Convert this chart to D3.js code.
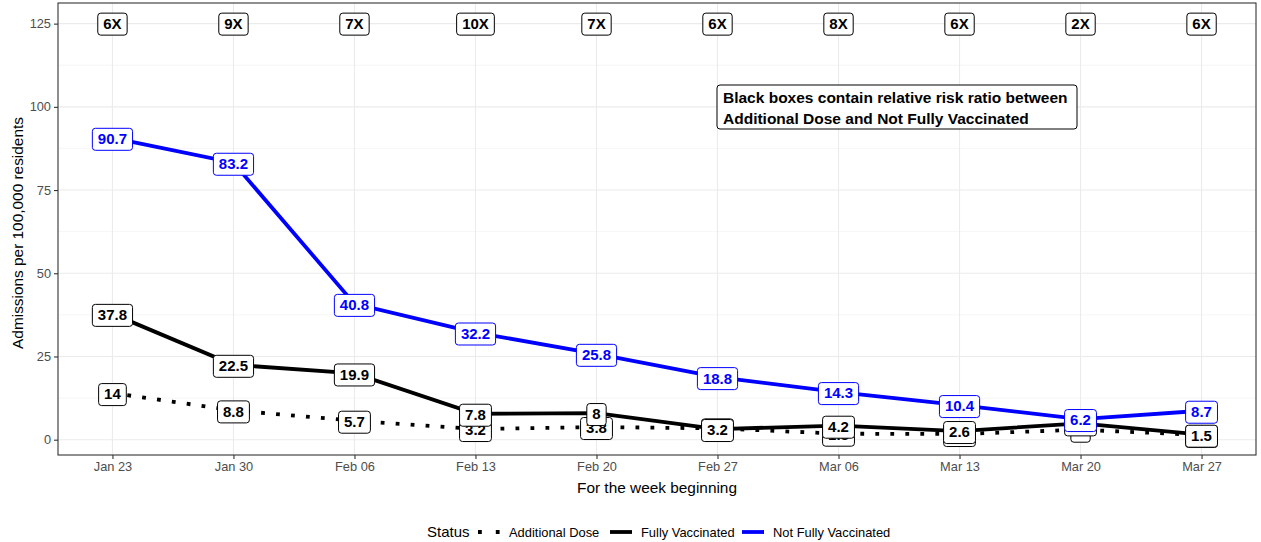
<!DOCTYPE html>
<html>
<head>
<meta charset="utf-8">
<script src="https://cdn.jsdelivr.net/npm/d3@7"></script>
<style>
  body { margin: 0; background: #fff; }
  svg { display: block; font-family: 'Liberation Sans', Arial, sans-serif; }
</style>
</head>
<body>
<div class="container"></div>
<script>
const weeks = ['2022-01-23', '2022-01-30', '2022-02-06', '2022-02-13', '2022-02-20',
    '2022-02-27', '2022-03-06', '2022-03-13', '2022-03-20', '2022-03-27'];
const notFully = [90.7, 83.2, 40.8, 32.2, 25.8, 18.8, 14.3, 10.4, 6.2, 8.7];
const fully = [37.8, 22.5, 19.9, 7.8, 8, 3.2, 4.2, 2.6, 4.9, 1.5];
const additional = [14, 8.8, 5.7, 3.2, 3.8, 3.4, 1.8, 1.7, 3.0, 1.4];
const ratios = ['6X', '9X', '7X', '10X', '7X', '6X', '8X', '6X', '2X', '6X'];
const yTicks = [0, 25, 50, 75, 100, 125];
const yMinor = [12.5, 37.5, 62.5, 87.5, 112.5];
const ratioY = 125;
const note = ['Black boxes contain relative risk ratio between', 'Additional Dose and Not Fully Vaccinated'];

const w = 1261;
const h = 542;
const panel = { left: 58, right: 1256, top: 3, bottom: 455 };

const parse = d3.timeParse('%Y-%m-%d');
const dates = weeks.map(parse);
const pad = 3.15 * 24 * 3600 * 1000;

const x = d3.scaleTime()
    .domain([new Date(+dates[0] - pad), new Date(+dates[dates.length - 1] + pad)])
    .range([panel.left, panel.right]);
const y = d3.scaleLinear()
    .domain([-4.6, 131.2])
    .range([panel.bottom, panel.top]);

const svg = d3.select('.container')
    .append('svg')
    .attr('width', w)
    .attr('height', h);

// grid
svg.append('g').selectAll('line.minor')
    .data(yMinor)
    .join('line')
    .attr('x1', panel.left).attr('x2', panel.right)
    .attr('y1', d => y(d)).attr('y2', d => y(d))
    .attr('stroke', '#f2f2f2').attr('stroke-width', 0.7);

svg.append('g').selectAll('line')
    .data(yTicks)
    .join('line')
    .attr('x1', panel.left).attr('x2', panel.right)
    .attr('y1', d => y(d)).attr('y2', d => y(d))
    .attr('stroke', '#ebebeb').attr('stroke-width', 1.1);

svg.append('g').selectAll('line')
    .data(dates)
    .join('line')
    .attr('y1', panel.top).attr('y2', panel.bottom)
    .attr('x1', d => x(d)).attr('x2', d => x(d))
    .attr('stroke', '#ebebeb').attr('stroke-width', 1.1);

// axes
const xAxis = svg.append('g')
    .attr('transform', `translate(0,${panel.bottom})`)
    .call(d3.axisBottom(x).tickValues(dates).tickFormat(d3.timeFormat('%b %d')).tickSize(4).tickPadding(3));
const yAxis = svg.append('g')
    .attr('transform', `translate(${panel.left},0)`)
    .call(d3.axisLeft(y).tickValues(yTicks).tickSize(4).tickPadding(3));

[xAxis, yAxis].forEach(g => {
    g.select('.domain').remove();
    g.selectAll('.tick line').attr('stroke', '#333333').attr('stroke-width', 1.1);
    g.selectAll('.tick text').attr('fill', '#4d4d4d').style('font-size', '12.8px')
        .style('font-family', "'Liberation Sans', Arial, sans-serif");
});

svg.append('rect')
    .attr('x', panel.left).attr('y', panel.top)
    .attr('width', panel.right - panel.left).attr('height', panel.bottom - panel.top)
    .attr('fill', 'none').attr('stroke', '#333333').attr('stroke-width', 1.1);

// axis titles
svg.append('text')
    .attr('x', 657)
    .attr('y', 493)
    .attr('text-anchor', 'middle')
    .style('font-size', '15.4px')
    .text('For the week beginning');

svg.append('text')
    .attr('transform', `translate(23,${(panel.top + panel.bottom) / 2 + 4}) rotate(-90)`)
    .attr('text-anchor', 'middle')
    .style('font-size', '15.4px')
    .text('Admissions per 100,000 residents');

// lines
const series = [
    { name: 'Additional Dose', values: additional, color: '#000000', dash: '3.8 11.2' },
    { name: 'Fully Vaccinated', values: fully, color: '#000000', dash: null },
    { name: 'Not Fully Vaccinated', values: notFully, color: '#0000ff', dash: null }
];

const line = d3.line()
    .x((d, i) => x(dates[i]))
    .y(d => y(d));

svg.append('g').selectAll('path')
    .data(series)
    .join('path')
    .attr('d', s => line(s.values))
    .attr('fill', 'none')
    .attr('stroke', s => s.color)
    .attr('stroke-width', 3.8)
    .attr('stroke-dasharray', s => s.dash);

// labels
function label(g, cx, cy, txt, color) {
    const grp = g.append('g');
    const t = grp.append('text')
        .attr('x', cx).attr('y', cy)
        .attr('text-anchor', 'middle')
        .attr('dy', '0.36em')
        .attr('fill', color)
        .style('font-size', '15px')
        .style('font-weight', 'bold')
        .text(txt);
    const bw = t.node().getComputedTextLength() + 11;
    const bh = 22;
    grp.insert('rect', 'text')
        .attr('x', cx - bw / 2).attr('y', cy - bh / 2 + 0.5)
        .attr('width', bw).attr('height', bh)
        .attr('rx', 3).attr('ry', 3)
        .attr('fill', '#fff')
        .attr('stroke', color).attr('stroke-width', 1);
}

const labels = svg.append('g');
series.forEach(s => {
    s.values.forEach((v, i) => label(labels, x(dates[i]), y(v) + 1, String(v), s.color));
});
ratios.forEach((r, i) => label(labels, x(dates[i]), y(ratioY), r, '#000'));

// note box
const note_g = svg.append('g');
note_g.append('rect')
    .attr('x', 717).attr('y', 85)
    .attr('width', 360).attr('height', 44)
    .attr('rx', 3).attr('ry', 3)
    .attr('fill', '#fff').attr('stroke', '#000').attr('stroke-width', 1);
note_g.selectAll('text')
    .data(note)
    .join('text')
    .attr('x', 723)
    .attr('y', (d, i) => 103 + i * 21)
    .style('font-size', '15.5px')
    .style('font-weight', 'bold')
    .text(d => d);

// legend
const legend = svg.append('g').attr('transform', 'translate(0,532)');
legend.append('text')
    .attr('x', 427).attr('dy', '0.35em')
    .style('font-size', '15px')
    .text('Status');
const keyX = [478, 610, 742];
const textX = [509, 641, 773];
series.forEach((s, i) => {
    legend.append('line')
        .attr('x1', keyX[i]).attr('x2', keyX[i] + 22)
        .attr('stroke', s.color)
        .attr('stroke-width', 3.8)
        .attr('stroke-dasharray', s.dash ? '3.8 14' : null);
    legend.append('text')
        .attr('x', textX[i]).attr('dy', '0.35em')
        .style('font-size', '12.9px')
        .text(s.name);
});
</script>
</body>
</html>
